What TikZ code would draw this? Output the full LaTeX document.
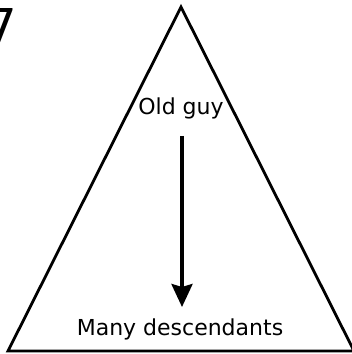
\documentclass[tikz,border=0pt]{standalone}
\usepackage{fontspec}
\setmainfont{DejaVu Sans}
\usetikzlibrary{arrows.meta}
\begin{document}
\begin{tikzpicture}[x=1pt,y=1pt,
  edge/.style={line width=2.8pt,line join=miter},
  lbl/.style={font=\fontsize{22}{22}\selectfont,inner sep=0pt,anchor=base}]
\useasboundingbox (0,0) rectangle (352,354);
\node[anchor=north east,inner sep=0pt,font=\fontsize{48}{48}\selectfont] (seven) at (17,346) {7};
\coordinate (apex) at (181,347);
\coordinate (bl) at (8,3);
\coordinate (br) at (354,3);
\draw[edge] (apex) -- (bl) -- (br) -- cycle;
\node[lbl] (old) at (181,239) {Old guy};
\node[lbl] (many) at (180,18) {Many descendants};
\coordinate (top) at (182,218);
\coordinate (tip) at (182,47);
\draw[line width=3.5pt,-{Stealth[length=23pt,width=21pt,inset=3pt]}] (top) -- (tip);
\end{tikzpicture}
\end{document}
